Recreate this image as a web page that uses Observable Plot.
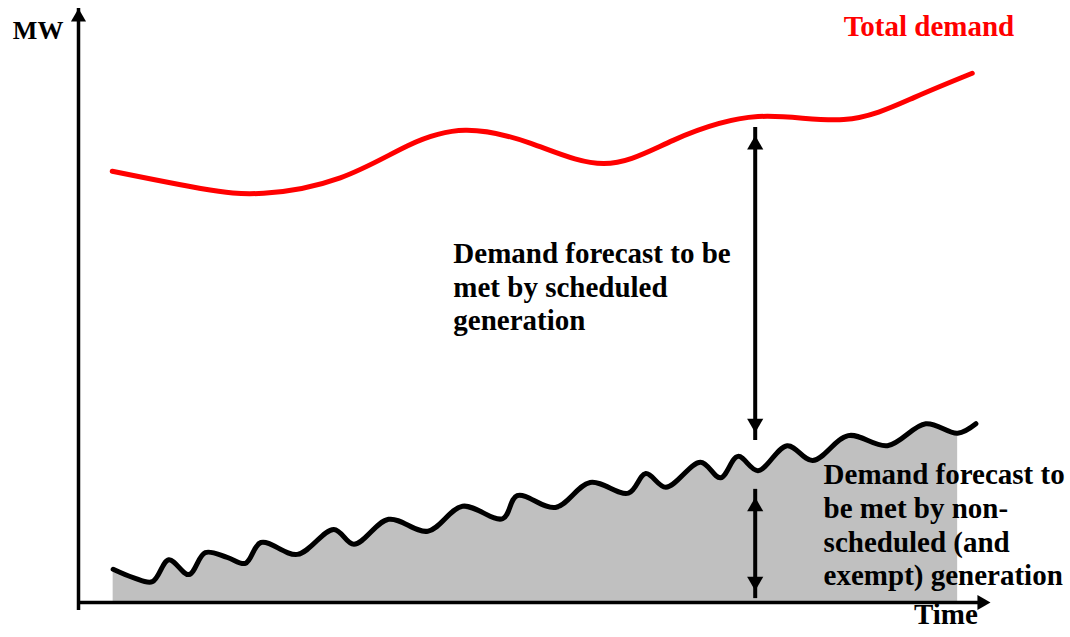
<!DOCTYPE html>
<html><head><meta charset="utf-8">
<script src="https://cdn.jsdelivr.net/npm/d3@7"></script>
<script src="https://cdn.jsdelivr.net/npm/@observablehq/plot@0.6"></script>
<style>html,body{margin:0;padding:0;background:#fff} #chart svg{display:block}</style>
</head><body><div id="chart"></div>
<script>
// Time (0-100, arbitrary units) and MW (0-100, arbitrary units)
const demandT  = [3.7, 13.4, 20.3, 28.7, 36.1, 42.4, 49.6, 57.6, 65.2, 74.5, 83.9, 91.6, 98.0];
const demandMW = [72.6, 69.7, 68.9, 71.5, 76.9, 79.5, 77.3, 73.9, 77.8, 81.8, 81.3, 85.0, 89.1];

const nonSchedT  = [3.8, 6.0, 8.1, 9.9, 12.1, 13.9, 16.3, 18.3, 20.0, 24.0, 28.0, 30.2, 34.0, 38.3, 42.1, 46.5, 48.1, 52.3, 56.1, 60.3, 62.2, 64.4, 68.2, 70.4, 72.3, 74.5, 77.7, 80.5, 84.4, 88.7, 92.9, 96.4, 98.4];
const nonSchedMW = [5.6, 4.2, 3.5, 7.2, 4.7, 8.4, 7.6, 6.6, 10.1, 8.1, 12.3, 9.8, 14.0, 12.0, 16.2, 14.1, 18.0, 16.0, 20.2, 18.4, 21.7, 19.4, 23.6, 21.0, 24.6, 22.2, 26.4, 23.9, 28.1, 26.4, 30.1, 28.5, 30.1];

// double-headed gap arrows: time, lower MW, upper MW
const gapT    = [74.2, 74.2];
const gapFrom = [28.6, 2.0];
const gapTo   = [78.6, 17.7];

const axisEnd = 100;

const demand   = demandT.map((t, i) => ({t, mw: demandMW[i]}));
const nonSched = nonSchedT.map((t, i) => ({t, mw: nonSchedMW[i]}));
const fillPts  = nonSched.slice(0, -1);
const gaps     = gapT.map((t, i) => ({t, from: gapFrom[i], to: gapTo[i]}));

const serif = "'Liberation Serif', 'Times New Roman', serif";

function label(text, t, mw, opts = {}) {
  return Plot.text([text], {
    x: () => t, y: () => mw, text: d => d,
    textAnchor: "start", lineAnchor: "bottom", lineHeight: 1.16,
    fontFamily: serif, fontWeight: "bold", fontSize: 29, fill: "black", ...opts
  });
}

const chart = Plot.plot({
  width: 1070, height: 637,
  marginLeft: 78, marginRight: 80, marginTop: 8, marginBottom: 35,
  x: {domain: [0, axisEnd], axis: null},
  y: {domain: [0, axisEnd], axis: null},
  style: {fontFamily: serif, background: "#fff", overflow: "visible"},
  marks: [
    Plot.areaY(fillPts, {x: "t", y: "mw", fill: "#c0c0c0", curve: "catmull-rom"}),
    // axes with arrowheads
    Plot.ruleY([{y: 0, x1: 0, x2: axisEnd}], {y: "y", x1: "x1", x2: "x2", stroke: "black", strokeWidth: 3.5, insetRight: 8}),
    Plot.ruleX([{x: 0, y1: 0, y2: axisEnd}], {x: "x", y1: "y1", y2: "y2", stroke: "black", strokeWidth: 3.5, insetTop: 8}),
    Plot.dot([{t: 0, mw: axisEnd}], {x: "t", y: "mw", symbol: "triangle", r: 5.6, fill: "black", stroke: "none", dy: 8.7}),
    Plot.dot([{t: axisEnd, mw: 0}], {x: "t", y: "mw", symbol: "triangle", r: 5.6, rotate: 90, fill: "black", stroke: "none", dx: -8.7}),
    // series
    Plot.line(nonSched, {x: "t", y: "mw", stroke: "black", strokeWidth: 5, curve: "catmull-rom"}),
    Plot.line(demand, {x: "t", y: "mw", stroke: "#ff0000", strokeWidth: 5, curve: "natural"}),
    // gap arrows
    Plot.ruleX(gaps, {x: "t", y1: "from", y2: "to", stroke: "black", strokeWidth: 4, insetTop: 8, insetBottom: 8}),
    Plot.dot(gaps, {x: "t", y: "to", symbol: "triangle", r: 6, fill: "black", stroke: "none", dy: 9.3}),
    Plot.dot(gaps, {x: "t", y: "from", symbol: "triangle", r: 6, rotate: 180, fill: "black", stroke: "none", dy: -9.3}),
    // labels
    label("MW", -7.2, 94.8, {fontSize: 26}),
    label("Time", 91.6, -3.6),
    label("Total demand", 83.9, 95.3, {fill: "#ff0000"}),
    label("Demand forecast to be\nmet by scheduled\ngeneration", 41.1, 45.8),
    label("Demand forecast to\nbe met by non-\nscheduled (and\nexempt) generation", 81.7, 2.9)
  ]
});
document.getElementById("chart").appendChild(chart);
</script>
</body></html>
